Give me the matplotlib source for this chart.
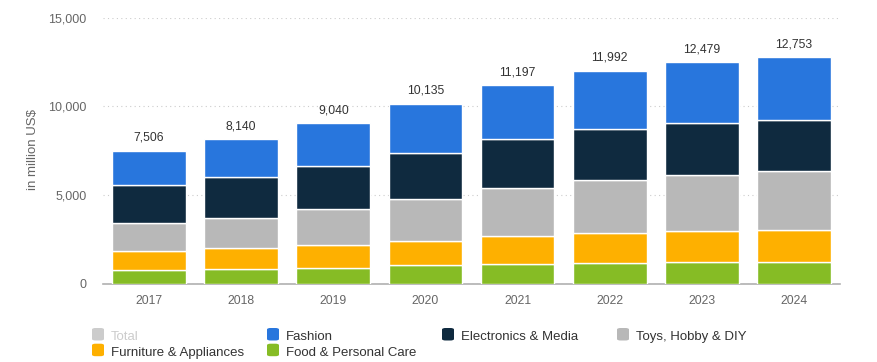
import matplotlib
matplotlib.use("Agg")
import matplotlib.pyplot as plt
from matplotlib.patches import FancyBboxPatch
import numpy as np

plt.rcParams["font.family"] = ["Liberation Sans", "DejaVu Sans"]

years = ["2017", "2018", "2019", "2020", "2021", "2022", "2023", "2024"]
totals = [7506, 8140, 9040, 10135, 11197, 11992, 12479, 12753]

# stacked from bottom to top
food = [805, 860, 920, 1050, 1125, 1200, 1255, 1255]
furniture = [1069, 1150, 1260, 1370, 1555, 1670, 1725, 1785]
toys = [1542, 1700, 2020, 2350, 2740, 2980, 3170, 3300]
electronics = [2155, 2290, 2440, 2620, 2720, 2850, 2910, 2910]
fashion = [t - (a + b + c + d) for t, a, b, c, d in
           zip(totals, food, furniture, toys, electronics)]

series = [
    ("Food & Personal Care", food, "#86bc25"),
    ("Furniture & Appliances", furniture, "#feb000"),
    ("Toys, Hobby & DIY", toys, "#b8b8b8"),
    ("Electronics & Media", electronics, "#0f2a3f"),
    ("Fashion", fashion, "#2876dd"),
]

W, H = 878, 362
fig = plt.figure(figsize=(W / 100, H / 100), dpi=100)
ax = fig.add_axes([103 / W, 1 - 284 / H, (840 - 103) / W, (284 - 17.5) / H])

x = np.arange(len(years))
bottom = np.zeros(len(years))
for name, vals, color in series:
    ax.bar(x, vals, 0.8, bottom=bottom, color=color, edgecolor="white",
           linewidth=1, zorder=3)
    bottom += np.array(vals)

for xi, t in zip(x, totals):
    ax.annotate(f"{t:,}", xy=(xi, t), xytext=(0, 5), textcoords="offset points",
                ha="center", va="bottom", fontsize=8.7, color="#333333")

ax.set_xlim(-0.5, len(years) - 0.5)
ax.set_ylim(0, 15000)
ax.set_yticks([0, 5000, 10000, 15000])
ax.set_yticklabels([f"{v:,}" for v in [0, 5000, 10000, 15000]])
ax.set_xticks(x)
ax.set_xticklabels(years)
ax.tick_params(axis="both", length=0, labelsize=8.7, colors="#666666")
ax.tick_params(axis="y", labelsize=9, pad=12)
ax.tick_params(axis="x", pad=8)
ax.grid(axis="y", linestyle=(0, (1, 3)), color="#cccccc", linewidth=0.8, zorder=0)
for side in ["top", "right", "left"]:
    ax.spines[side].set_visible(False)
ax.spines["bottom"].set_color("#b0b0b0")
ax.spines["bottom"].set_linewidth(1.2)
fig.text(33 / W, 1 - 149 / H, "in million US$", rotation=90, fontsize=9.5,
         color="#666666", ha="center", va="center")

# legend drawn in a fixed grid like the original
legend_items = [
    ("Total", "#cccccc", "#cccccc"),
    ("Fashion", "#2876dd", "#333333"),
    ("Electronics & Media", "#0f2a3f", "#333333"),
    ("Toys, Hobby & DIY", "#b8b8b8", "#333333"),
    ("Furniture & Appliances", "#feb000", "#333333"),
    ("Food & Personal Care", "#86bc25", "#333333"),
]
for i, (label, color, tcolor) in enumerate(legend_items):
    col, row = i % 4, i // 4
    px = 92 + col * 175
    py = 334 + row * 15.7
    fig.patches.append(FancyBboxPatch(
        (px / W, (H - py - 6.5) / H), 12 / W, 12.5 / H,
        boxstyle="round,pad=0,rounding_size=0.004", transform=fig.transFigure,
        facecolor=color, edgecolor="none"))
    fig.text((px + 19) / W, (H - py - 1.5) / H, label, fontsize=9.5,
             color=tcolor, ha="left", va="center_baseline")

fig.savefig("out.png", dpi=100)
